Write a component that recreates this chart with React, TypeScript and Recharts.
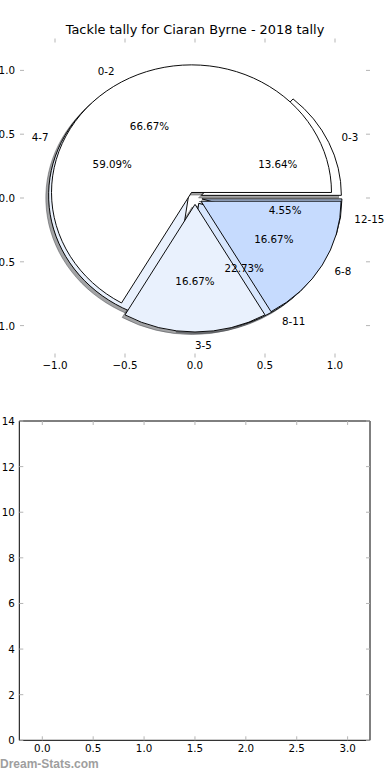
import React from 'react';
import { PieChart, Pie, Cell, ScatterChart, XAxis, YAxis } from 'recharts';

// inner pie (drawn on top)
const innerNames = ['0-2', '3-5', '6-8'];
const innerValues = [4, 1, 1];
const innerColors = ['#ffffff', '#e9f1fd', '#c6dbfe'];

// outer pie (drawn underneath)
const outerNames = ['0-3', '4-7', '8-11', '12-15'];
const outerValues = [3, 13, 5, 1];
const outerColors = ['#ffffff', '#e9f1fd', '#d7e6fd', '#c6dbfe'];

const pieTicks = [-1, -0.5, 0, 0.5, 1];
const barXTicks = [0, 0.5, 1, 1.5, 2, 2.5, 3];
const barYTicks = [0, 2, 4, 6, 8, 10, 12, 14];

const EXPLODE = 0.05;
const SHADOW = -0.02;
const SX = 140; // px per unit, horizontal
const SY = 127.6; // px per unit, vertical
const CX = 195;
const CY = 198;
const K = SY / SX;

const FONT = '"DejaVu Sans", sans-serif';
const TICK = '#b5b5b5';

const fmt1 = (v: number) => (v < 0 ? '\u2212' : '') + Math.abs(v).toFixed(1);
const fmt0 = (v: number) => String(v);

const toData = (names: string[], values: number[]) => names.map((name, i) => ({ name, value: values[i] }));

const midAngles = (values: number[]) => {
  const total = values.reduce((a, b) => a + b, 0);
  let acc = 0;
  return values.map((v) => {
    const m = ((acc + v / 2) / total) * 360;
    acc += v;
    return m;
  });
};

const shade = (hex: string) => {
  const n = parseInt(hex.slice(1), 16);
  const r = Math.round(((n >> 16) & 255) * 0.3);
  const g = Math.round(((n >> 8) & 255) * 0.3);
  const b = Math.round((n & 255) * 0.3);
  return `rgb(${r},${g},${b})`;
};

const wedges = (tag: string, names: string[], values: number[], colors: string[]) =>
  midAngles(values).map((m, i) => {
    const rad = (m * Math.PI) / 180;
    return {
      tag,
      i,
      data: toData(names, values),
      color: colors[i],
      ox: EXPLODE * Math.cos(rad),
      oy: EXPLODE * Math.sin(rad),
    };
  });

const allWedges = [
  ...wedges('o', outerNames, outerValues, outerColors),
  ...wedges('i', innerNames, innerValues, innerColors),
];

const renderLabel = (p: any) => {
  const rad = (p.midAngle * Math.PI) / 180;
  const c = Math.cos(rad);
  const s = Math.sin(rad);
  const ox = EXPLODE * c;
  const oy = EXPLODE * s;
  const lx = ox + 1.1 * c;
  const ly = oy + 1.1 * s;
  const px = ox + 0.6 * c;
  const py = oy + 0.6 * s;
  const style = { fontFamily: FONT, fontSize: 10.3 };
  return (
    <g key={`lab-${p.name}`}>
      <text x={CX + lx * SX} y={CY - ly * SY} textAnchor={c > -1e-6 ? 'start' : 'end'} dominantBaseline="central" fill="#000" style={style}>
        {p.name}
      </text>
      <text x={CX + px * SX} y={CY - py * SY} textAnchor="middle" dominantBaseline="central" fill="#000" style={style}>
        {(p.percent * 100).toFixed(2)}%
      </text>
    </g>
  );
};

const tickText = { fontFamily: FONT, fontSize: 10.3 };

const bottomTick = (fmt: (v: number) => string, gap: number) => (p: any) => (
  <g>
    <line x1={p.x} x2={p.x} y1={p.y} y2={p.y - 4} stroke={TICK} />
    <text x={p.x} y={p.y + gap} textAnchor="middle" dominantBaseline="central" fill="#000" style={tickText}>
      {fmt(p.payload.value)}
    </text>
  </g>
);
const leftTick = (fmt: (v: number) => string, gap: number) => (p: any) => (
  <g>
    <line x1={p.x} x2={p.x + 4} y1={p.y} y2={p.y} stroke={TICK} />
    <text x={p.x - gap} y={p.y} textAnchor="end" dominantBaseline="central" fill="#000" style={tickText}>
      {fmt(p.payload.value)}
    </text>
  </g>
);
const topTick = (p: any) => <line x1={p.x} x2={p.x} y1={p.y} y2={p.y + 4} stroke={TICK} />;
const rightTick = (p: any) => <line x1={p.x} x2={p.x - 4} y1={p.y} y2={p.y} stroke={TICK} />;

function PieAxes() {
  return (
    <ScatterChart width={390} height={380} margin={{ top: 37.5, right: 19, bottom: 0, left: 0 }}>
      <XAxis xAxisId="b" dataKey="x" type="number" domain={[-1.25, 1.25]} ticks={pieTicks} allowDataOverflow height={22.5}
        axisLine={false} tickLine={false} tickSize={0} tickMargin={0} tick={bottomTick(fmt1, 7)} interval={0} />
      <XAxis xAxisId="t" dataKey="x" orientation="top" type="number" domain={[-1.25, 1.25]} ticks={pieTicks} allowDataOverflow height={1}
        axisLine={false} tickLine={false} tickSize={0} tickMargin={0} tick={topTick} interval={0} />
      <YAxis yAxisId="l" dataKey="y" type="number" domain={[-1.25, 1.25]} ticks={pieTicks} allowDataOverflow width={20}
        axisLine={false} tickLine={false} tickSize={0} tickMargin={0} tick={leftTick(fmt1, 5)} interval={0} />
      <YAxis yAxisId="r" dataKey="y" orientation="right" type="number" domain={[-1.25, 1.25]} ticks={pieTicks} allowDataOverflow width={1}
        axisLine={false} tickLine={false} tickSize={0} tickMargin={0} tick={rightTick} interval={0} />
    </ScatterChart>
  );
}

function TallyPies() {
  return (
    <PieChart width={390} height={380} margin={{ top: 0, right: 0, bottom: 0, left: 0 }}>
      {allWedges.map((w) => (
        <Pie key={`s${w.tag}${w.i}`} data={w.data} dataKey="value" nameKey="name"
          cx={CX + (w.ox + SHADOW) * SX} cy={CY - (w.oy + SHADOW) * SX}
          innerRadius={0} outerRadius={SX} startAngle={0} endAngle={360}
          isAnimationActive={false} label={false} labelLine={false}>
          {w.data.map((_, j) =>
            j === w.i ? (
              <Cell key={j} fill={shade(w.color)} fillOpacity={0.5} stroke={shade(w.color)} strokeOpacity={0.5} />
            ) : (
              <Cell key={j} fill="none" stroke="none" />
            )
          )}
        </Pie>
      ))}
      {allWedges.map((w) => (
        <Pie key={`w${w.tag}${w.i}`} data={w.data} dataKey="value" nameKey="name"
          cx={CX + w.ox * SX} cy={CY - w.oy * SX}
          innerRadius={0} outerRadius={SX} startAngle={0} endAngle={360}
          isAnimationActive={false} label={false} labelLine={false}>
          {w.data.map((_, j) =>
            j === w.i ? (
              <Cell key={j} fill={w.color} stroke="#000" strokeWidth={1} />
            ) : (
              <Cell key={j} fill="none" stroke="none" />
            )
          )}
        </Pie>
      ))}
      {[toData(outerNames, outerValues), toData(innerNames, innerValues)].map((d, k) => (
        <Pie key={`l${k}`} data={d} dataKey="value" nameKey="name" cx={CX} cy={CY}
          innerRadius={0} outerRadius={SX} startAngle={0} endAngle={360}
          isAnimationActive={false} label={renderLabel} labelLine={false}>
          {d.map((_, j) => (
            <Cell key={j} fill="none" stroke="none" />
          ))}
        </Pie>
      ))}
    </PieChart>
  );
}

function EmptyBars() {
  return (
    <ScatterChart width={390} height={380} margin={{ top: 20, right: 19, bottom: 0, left: 0 }}>
      <XAxis xAxisId="b" dataKey="x" type="number" domain={[-0.226, 3.22]} ticks={barXTicks} allowDataOverflow height={39.7}
        axisLine={{ stroke: '#000' }} tickLine={false} tickSize={0} tickMargin={0} tick={bottomTick(fmt1, 8)} interval={0} />
      <XAxis xAxisId="t" dataKey="x" orientation="top" type="number" domain={[-0.226, 3.22]} ticks={barXTicks} allowDataOverflow height={1}
        axisLine={{ stroke: '#000' }} tickLine={false} tickSize={0} tickMargin={0} tick={topTick} interval={0} />
      <YAxis yAxisId="l" dataKey="y" type="number" domain={[0, 14]} ticks={barYTicks} allowDataOverflow width={19.3}
        axisLine={{ stroke: '#000' }} tickLine={false} tickSize={0} tickMargin={0} tick={leftTick(fmt0, 4.5)} interval={0} />
      <YAxis yAxisId="r" dataKey="y" orientation="right" type="number" domain={[0, 14]} ticks={barYTicks} allowDataOverflow width={1}
        axisLine={{ stroke: '#000' }} tickLine={false} tickSize={0} tickMargin={0} tick={rightTick} interval={0} />
    </ScatterChart>
  );
}

export default function App() {
  return (
    <div style={{ position: 'relative', width: 390, height: 780, background: '#fff', overflow: 'hidden' }}>
      <style>{`body{margin:0}.pies path.recharts-sector{transform-origin:${CX}px ${CY}px;transform:scaleY(${K});}`}</style>
      <div style={{ position: 'absolute', left: 0, top: 22, width: 390, textAlign: 'center', fontFamily: FONT, fontSize: 12.9, lineHeight: '15px', color: '#000' }}>
        Tackle tally for Ciaran Byrne - 2018 tally
      </div>
      <div style={{ position: 'absolute', left: 0, top: 0 }}>
        <PieAxes />
      </div>
      <div className="pies" style={{ position: 'absolute', left: 0, top: 0 }}>
        <TallyPies />
      </div>
      <div style={{ position: 'absolute', left: 0, top: 400 }}>
        <EmptyBars />
      </div>
      <div style={{ position: 'absolute', left: 0, top: 757, fontFamily: '"Liberation Sans", Arial, sans-serif', fontWeight: 700, fontSize: 12, lineHeight: '14px', color: '#9e9e9e' }}>
        Dream-Stats.com
      </div>
    </div>
  );
}
